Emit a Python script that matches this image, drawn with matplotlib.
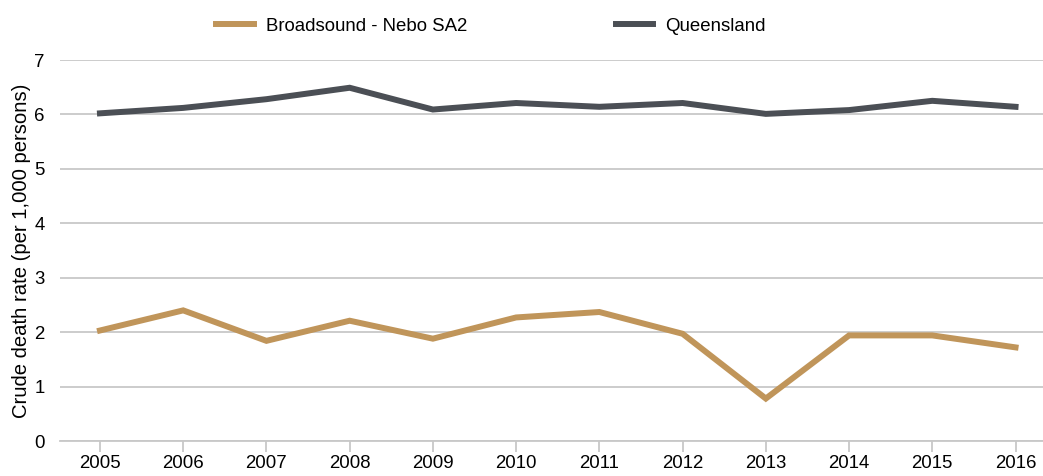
import matplotlib
matplotlib.use("Agg")
import matplotlib.pyplot as plt

plt.rcParams['font.family'] = ['Liberation Sans', 'DejaVu Sans']

years = [2005, 2006, 2007, 2008, 2009, 2010, 2011, 2012, 2013, 2014, 2015, 2016]
broadsound = [2.03, 2.40, 1.84, 2.21, 1.88, 2.27, 2.37, 1.97, 0.78, 1.94, 1.94, 1.72]
queensland = [6.02, 6.12, 6.28, 6.49, 6.09, 6.21, 6.14, 6.21, 6.01, 6.08, 6.25, 6.14]

gold = '#C0955A'
dark = '#4B4F55'
grid = '#C8C8C8'

fig = plt.figure(figsize=(10.43, 4.76), dpi=100)
ax = fig.add_axes([60 / 1043, 1 - 441 / 476, 1 - 60 / 1043, (441 - 60) / 476])

ax.plot(years, broadsound, color=gold, lw=4.3, label='Broadsound - Nebo SA2', solid_joinstyle='miter')
ax.plot(years, queensland, color=dark, lw=4.3, label='Queensland', solid_joinstyle='miter')

ax.set_ylim(0, 7)
ax.set_xlim(2004.52, 2016.33)
ax.set_yticks(range(8))
ax.set_xticks(years)
ax.set_xticklabels([str(y) for y in years])
ax.yaxis.grid(True, color=grid, lw=1.3)
ax.set_axisbelow(True)
for s in ['top', 'right', 'left']:
    ax.spines[s].set_visible(False)
ax.spines['bottom'].set_color(grid)
ax.spines['bottom'].set_linewidth(1.3)
ax.tick_params(axis='y', length=0, labelsize=13.4, pad=11)
ax.tick_params(axis='x', length=8, color=grid, width=1.3, labelsize=13.4, pad=2)
ax.set_ylabel('Crude death rate (per 1,000 persons)', fontsize=14.6, labelpad=2)

fig.legend(loc='center', bbox_to_anchor=(491 / 1043, 1 - 26 / 476), ncol=2, frameon=False,
           fontsize=13.4, handlelength=2.0, handletextpad=0.65, columnspacing=8.0)

fig.savefig('out.png', dpi=100)
